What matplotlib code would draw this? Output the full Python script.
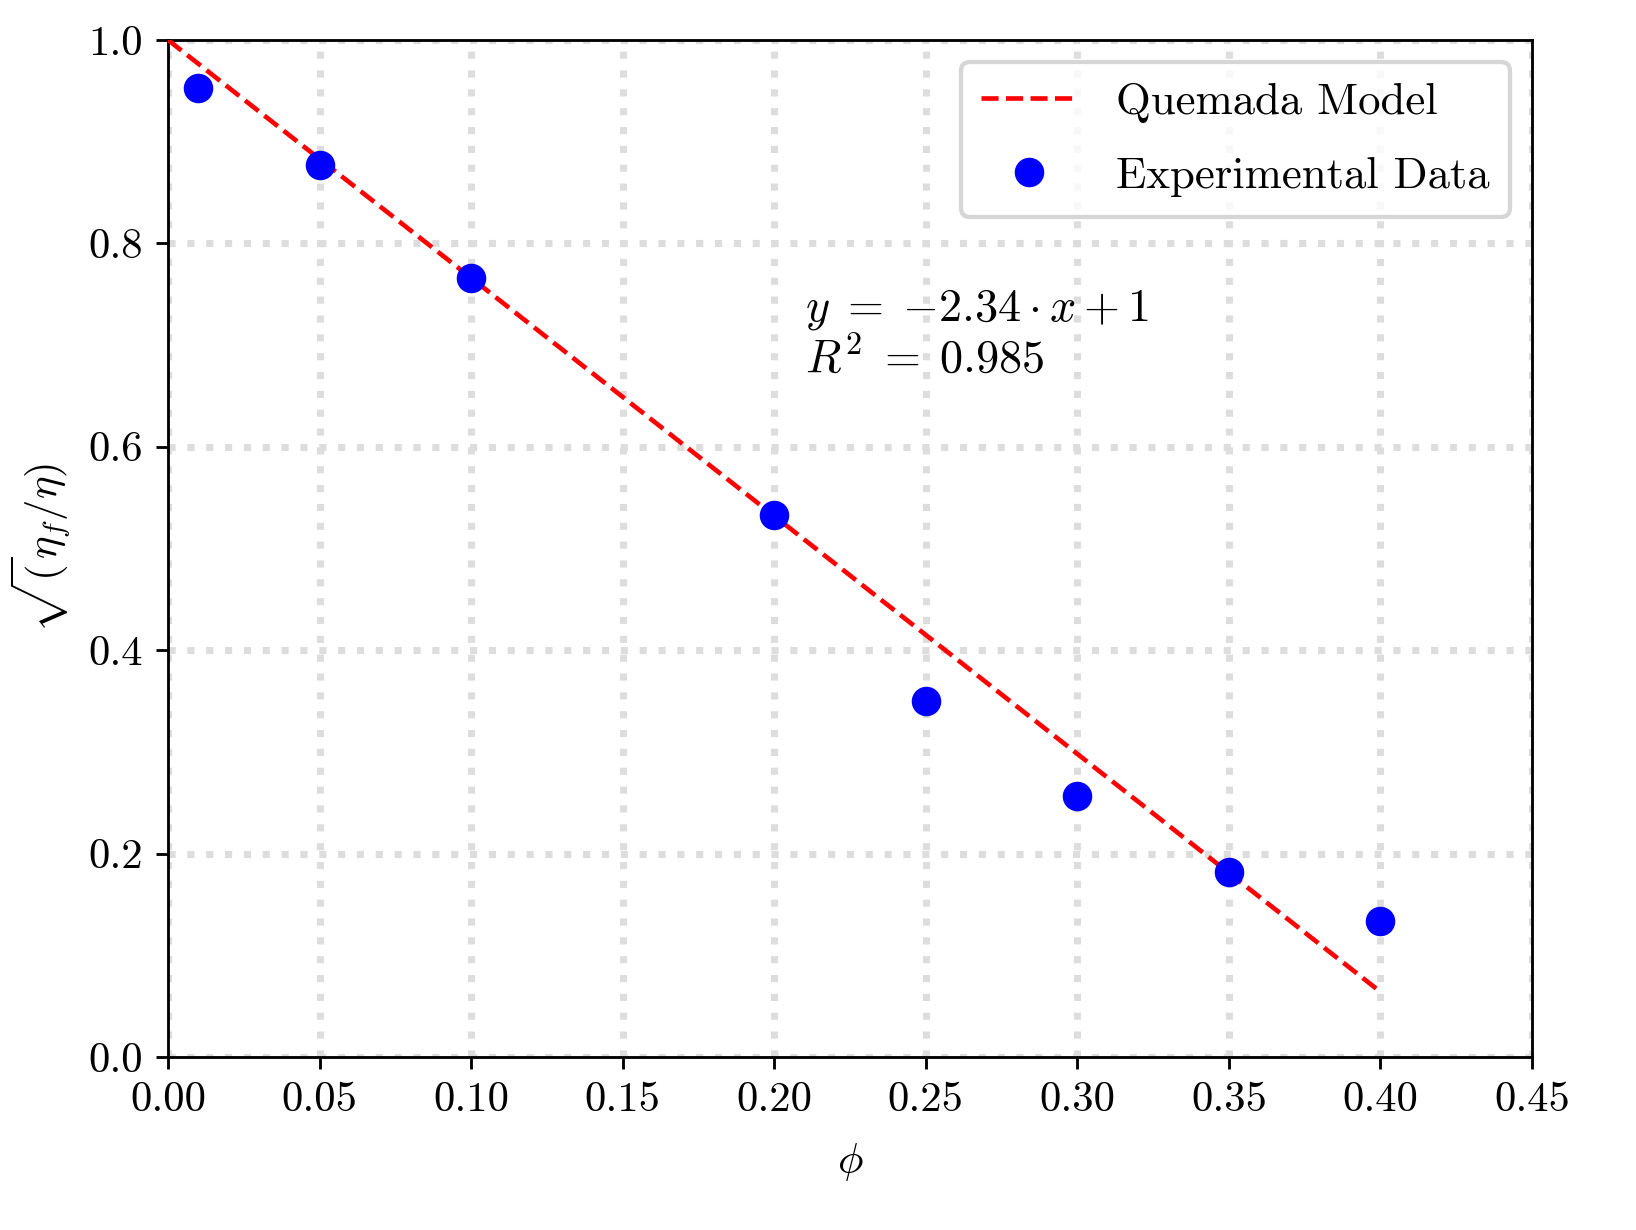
import numpy as np
import matplotlib
matplotlib.use("Agg")
import matplotlib.pyplot as plt

plt.rcParams['font.family'] = 'serif'
plt.rcParams['font.serif'] = ['cmr10']
plt.rcParams['mathtext.fontset'] = 'cm'
plt.rcParams['axes.formatter.use_mathtext'] = True
plt.rcParams['font.size'] = 12

# Datos experimentales
phi = [0.01, 0.05, 0.10, 0.20, 0.25, 0.30, 0.35, 0.40]
ratio = [0.953, 0.877, 0.766, 0.533, 0.350, 0.257, 0.182, 0.134]

# Modelo de Quemada (ajuste lineal)
slope = -2.34
intercept = 1.0
r2 = 0.985
x_fit = np.linspace(0, max(phi), 100)
y_fit = slope * x_fit + intercept

fig = plt.figure(figsize=(1636 / 256, 1230 / 256), dpi=256)
ax = fig.add_axes([0.1027, 0.1407, 0.8337, 0.8268])

ax.plot(x_fit, y_fit, 'r--', lw=1.3, label='Quemada Model', zorder=3)
ax.plot(phi, ratio, 'o', color='blue', ms=7.3, label='Experimental Data', zorder=4)

ax.text(0.21, 0.674, r'$y\;=\;{-2.34} \cdot x + 1$' + '\n' + r'$R^2\;=\;0.985$',
        fontsize=13, linespacing=1.1)

ax.set_xlim(0, 0.45)
ax.set_ylim(0, 1.0)
ax.set_xticks(np.arange(0, 0.451, 0.05))
ax.set_xticklabels([f'{v:.2f}' for v in np.arange(0, 0.451, 0.05)])
ax.set_yticks(np.arange(0, 1.01, 0.2))
ax.set_yticklabels([f'{v:.1f}' for v in np.arange(0, 1.01, 0.2)])
ax.grid(True, linestyle=':', color='#dddddd', lw=2.0)
ax.set_axisbelow(True)

ax.set_xlabel(r'$\phi$', labelpad=6)
ax.set_ylabel(r'$\sqrt{(}\eta_f/\eta)$')

leg = ax.legend(loc='upper right', fontsize=12.6, borderpad=0.45, labelspacing=0.75,
                handlelength=2.1, handletextpad=0.9, borderaxespad=0.5)
leg.get_frame().set_edgecolor('#cccccc')
leg.get_frame().set_linewidth(1.2)

fig.savefig('out.png', dpi=256)
